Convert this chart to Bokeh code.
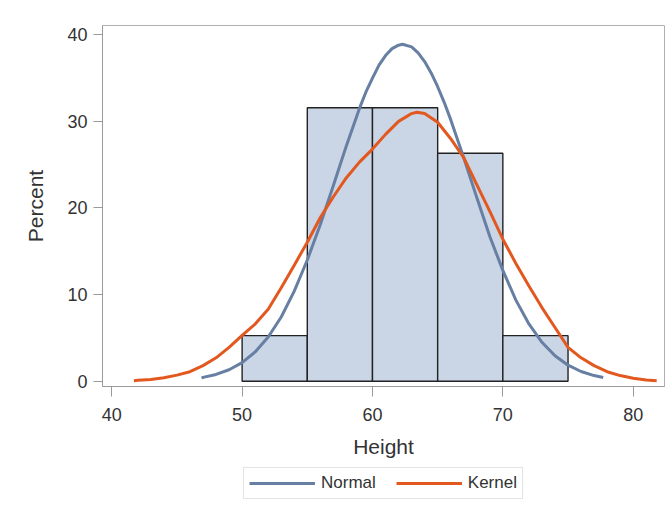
from bokeh.plotting import figure
from bokeh.layouts import column
from bokeh.models import Range1d, Legend, LegendItem, FixedTicker
from bokeh.embed import file_html
from bokeh.resources import INLINE

# Histogram of Height (percent per bin)
bin_left = [50, 55, 60, 65, 70]
bin_right = [55, 60, 65, 70, 75]
percent = [5.263, 31.579, 31.579, 26.316, 5.263]

# Normal curve
normal_x = [46.9, 47, 48, 49, 50, 51, 52, 53, 54, 55, 56, 57, 58, 59, 59.5, 60, 60.5, 61, 61.5,
            62, 62.3, 63, 63.5, 64, 64.5, 65, 65.5, 66, 67, 68, 69, 70, 71, 72, 73, 74, 75, 76, 77, 77.7]
normal_y = [0.35, 0.44, 0.78, 1.32, 2.15, 3.38, 5.10, 7.41, 10.4, 14.0, 18.1, 22.6, 27.2, 31.5, 33.4,
            35.0, 36.5, 37.6, 38.4, 38.8, 38.9, 38.6, 37.9, 36.9, 35.6, 34.0, 32.2, 30.2, 25.8, 21.2,
            16.7, 12.8, 9.36, 6.61, 4.49, 2.94, 1.85, 1.12, 0.65, 0.42]

# Kernel density curve
kernel_x = [41.7, 42, 43, 44, 45, 46, 47, 48, 49, 50, 51, 52, 53, 54, 55, 56, 57, 58, 59, 60, 61,
            62, 63, 63.4, 64, 65, 66, 67, 68, 69, 70, 71, 72, 73, 74, 75, 76, 77, 78, 79, 80, 81, 81.8]
kernel_y = [0.05, 0.1, 0.2, 0.4, 0.7, 1.1, 1.8, 2.7, 3.9, 5.3, 6.6, 8.3, 10.8, 13.4, 16.05, 18.9,
            21.3, 23.5, 25.3, 26.8, 28.5, 30.0, 30.9, 31.05, 30.9, 29.9, 28.0, 25.8, 22.7, 19.6,
            16.4, 13.6, 11.0, 8.5, 6.2, 3.9, 2.7, 1.8, 1.1, 0.65, 0.35, 0.15, 0.05]

x_ticks = [40, 50, 60, 70, 80]
y_ticks = [0, 10, 20, 30, 40]
series_names = ["Normal", "Kernel"]
series_colors = ["#667fa2", "#e2581f"]

FONT = "Liberation Sans"
TXT = "#333333"

p = figure(width=665, height=464,
           x_range=Range1d(39.29, 82.4), y_range=Range1d(-0.61, 41.07),
           output_backend="svg", toolbar_location=None,
           min_border_left=102, min_border_top=25, min_border_right=1, min_border_bottom=78)

p.background_fill_color = "white"
p.border_fill_color = "white"
p.outline_line_color = "#b0b0b0"
p.outline_line_width = 1
p.xgrid.visible = False
p.ygrid.visible = False

p.quad(left=bin_left, right=bin_right, bottom=0, top=percent,
       fill_color="#cad5e5", line_color="#222222", line_width=1.4)

p.line(normal_x, normal_y, line_color=series_colors[0], line_width=3)
p.line(kernel_x, kernel_y, line_color=series_colors[1], line_width=3)

for ax in (p.xaxis[0], p.yaxis[0]):
    ax.axis_line_color = "#9a9a9a"
    ax.major_tick_line_color = "#9a9a9a"
    ax.major_tick_in = 0
    ax.minor_tick_line_color = None
    ax.major_label_text_font = FONT
    ax.major_label_text_font_size = "18px"
    ax.major_label_text_color = TXT
    ax.axis_label_text_font = FONT
    ax.axis_label_text_font_size = "21px"
    ax.axis_label_text_font_style = "normal"
    ax.axis_label_text_color = TXT

p.xaxis.ticker = FixedTicker(ticks=x_ticks)
p.yaxis.ticker = FixedTicker(ticks=y_ticks)
p.xaxis.axis_label = "Height"
p.yaxis.axis_label = "Percent"
p.xaxis.major_tick_out = 10
p.yaxis.major_tick_out = 9
p.xaxis.major_label_standoff = 11
p.xaxis.axis_label_standoff = 11
p.yaxis.major_label_standoff = 6
p.yaxis.axis_label_standoff = 17

# Legend strip below the chart (its lines reuse the curve data, which falls outside this strip's ranges)
p2 = figure(width=665, height=37, x_range=Range1d(0, 1), y_range=Range1d(0, 1),
            x_axis_type=None, y_axis_type=None,
            output_backend="svg", toolbar_location=None,
            min_border_left=102, min_border_right=1, min_border_top=0, min_border_bottom=0)
p2.outline_line_color = None
p2.xgrid.visible = False
p2.ygrid.visible = False
p2.background_fill_color = "white"
p2.border_fill_color = "white"

leg_norm = p2.line(normal_x, normal_y, line_color=series_colors[0], line_width=3)
leg_kern = p2.line(kernel_x, kernel_y, line_color=series_colors[1], line_width=3)

legend = Legend(items=[LegendItem(label=series_names[0], renderers=[leg_norm]),
                       LegendItem(label=series_names[1], renderers=[leg_kern])],
                orientation="horizontal", location="center",
                label_text_font=FONT, label_text_font_size="17px", label_text_color=TXT,
                glyph_width=66, glyph_height=20, label_standoff=6, spacing=20,
                padding=5, margin=0,
                border_line_color="#c8c8c8", border_line_width=1,
                background_fill_color="white", background_fill_alpha=1.0)
p2.add_layout(legend, "center")

layout = column(p, p2, spacing=0)

open("out.html", "w").write(file_html(layout, INLINE))
